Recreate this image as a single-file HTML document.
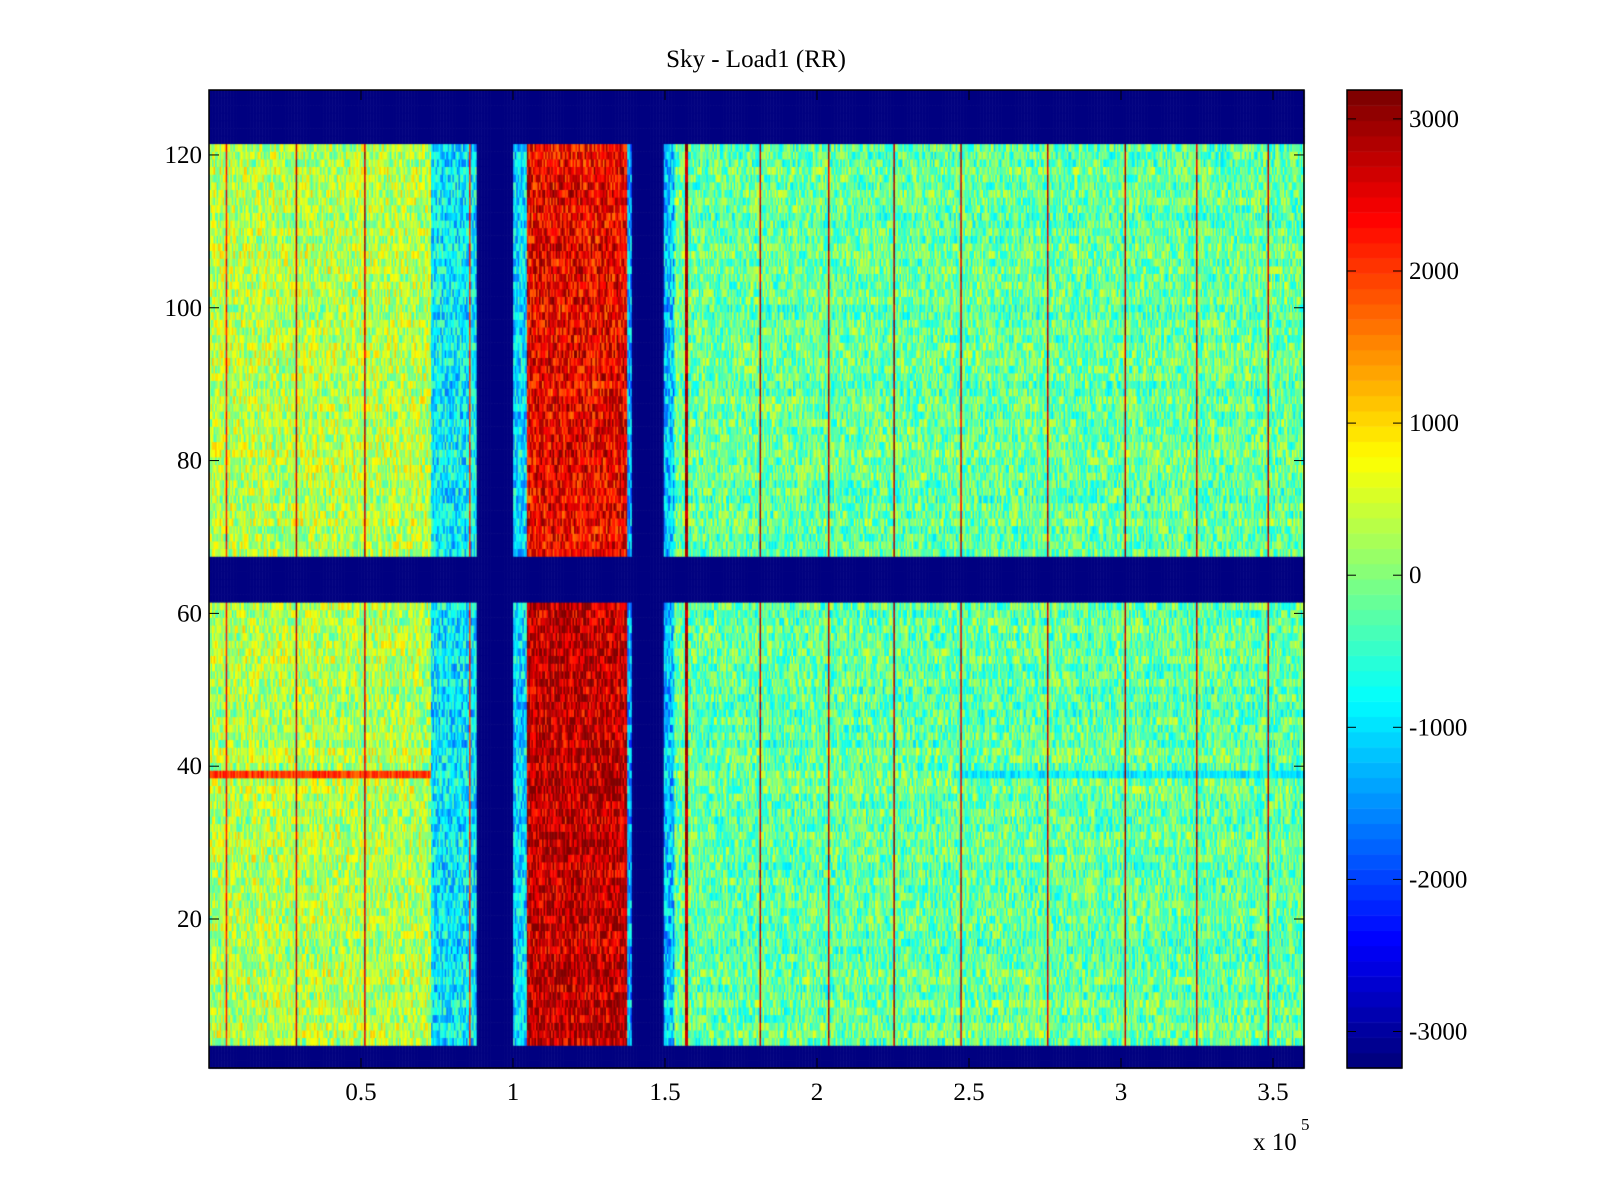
<!DOCTYPE html>
<html><head><meta charset="utf-8"><style>
body{margin:0;background:#fff;width:1600px;height:1200px;overflow:hidden;position:relative;font-family:"Liberation Serif",serif}
canvas{position:absolute;left:0;top:0}
svg{position:absolute;left:0;top:0}
</style></head><body>
<canvas id="cv" width="1600" height="1200"></canvas>
<svg id="sv" width="1600" height="1200"></svg>
<script>
// ---- data ----
const xMin = 0, xMax = 3.602;          // x in units of 1e5
const yMin = 0.5, yMax = 128.5;
const cMin = -3240, cMax = 3190;
const nCols = 720;
const blankRows = [[1,3],[62,67],[122,128]];
const segStarts = [0, 0.73, 0.879, 1.0, 1.044, 1.376, 1.39, 1.498, 1.53];
const segValues = [300, -900, -3240, -1000, 2400, -1300, -3240, -1200, -200];
const lowerRedBoost = 350;             // rows below the middle gap are darker red
const spikeX = [0.058, 0.288, 0.514, 0.86, 1.571, 1.815, 2.038, 2.253, 2.476, 2.757, 3.013, 3.25, 3.486];
const spikeValues = [2300, 2800, 2700, 2000, 2800, 2800, 2700, 2900, 2700, 2700, 2800, 2700, 2800];
const stripeRow = 39;
const stripeLeftValue = 2000, stripeRightValue = -900;
const xTicks = [0.5, 1, 1.5, 2, 2.5, 3, 3.5];
const xTickLabels = ["0.5","1","1.5","2","2.5","3","3.5"];
const yTicks = [20, 40, 60, 80, 100, 120];
const cTicks = [3000, 2000, 1000, 0, -1000, -2000, -3000];

// ---- geometry ----
const L = 209, R = 1304, T = 90, B = 1068;
const CL = 1347, CR = 1402;
const sx = v => L + (v - xMin) / (xMax - xMin) * (R - L);
const sy = v => B - (v - yMin) / (yMax - yMin) * (B - T);
const sc = v => B - (v - cMin) / (cMax - cMin) * (B - T);

function jet(t){
  t = Math.max(0, Math.min(1, t));
  t = Math.floor(t * 63.999) / 63;
  const f = (a) => Math.max(0, Math.min(1, 1.5 - Math.abs(4 * t - a)));
  return `rgb(${Math.round(255*f(3))},${Math.round(255*f(2))},${Math.round(255*f(1))})`;
}
function hash(a, b){ let h = (a * 374761393 + b * 668265263) | 0; h = (h ^ (h >>> 13)) * 1274126177 | 0; return ((h ^ (h >>> 16)) >>> 0) / 4294967296; }

const cv = document.getElementById('cv'), ctx = cv.getContext('2d');
const cw = (R - L) / nCols;
function baseAt(x){ let v = segValues[0]; for (let i = 0; i < segStarts.length; i++) if (x >= segStarts[i]) v = segValues[i]; return v; }
for (let r = 1; r <= 128; r++){
  const blank = blankRows.some(b => r >= b[0] && r <= b[1]);
  const y0 = sy(r + 0.5), y1 = sy(r - 0.5);
  const rowOff = (hash(r, 7) - 0.5) * 250;
  for (let c = 0; c < nCols; c++){
    const x = xMin + (c + 0.5) / nCols * (xMax - xMin);
    let v;
    if (blank) v = cMin;
    else {
      v = baseAt(x);
      if (v > cMin + 10){
        const n = (hash(r, c) - 0.5) * 1500;
        v += n + rowOff;
        if (v > 1300 && r < 62) v += lowerRedBoost;
        if (r === stripeRow && (x < 0.73 || x > 2.45)) v = (x < 0.73 ? stripeLeftValue : stripeRightValue) + n * 0.5;
      }
      for (let k = 0; k < spikeX.length; k++) if (Math.abs(x - spikeX[k]) < 0.0028) v = spikeValues[k] + (hash(r, k) - 0.5) * 700;
    }
    ctx.fillStyle = jet((v - cMin) / (cMax - cMin));
    ctx.fillRect(L + c * cw, y0, cw + 0.6, y1 - y0 + 0.6);
  }
}
// colorbar
for (let i = 0; i < 64; i++){
  const y0 = T + (B - T) * (63 - i) / 64, y1 = T + (B - T) * (64 - i) / 64;
  ctx.fillStyle = jet(i / 63);
  ctx.fillRect(CL, y0, CR - CL, y1 - y0 + 0.5);
}

// ---- axes ----
const NS = 'http://www.w3.org/2000/svg', sv = document.getElementById('sv');
function mk(tag, attrs, txt){ const e = document.createElementNS(NS, tag); for (const k in attrs) e.setAttribute(k, attrs[k]); if (txt !== undefined) e.textContent = txt; sv.appendChild(e); return e; }
let e;
e = mk('rect', {x:L, y:T, width:R-L, height:B-T, fill:'none', stroke:'#000', 'stroke-width':1.5});
 
e = mk('rect', {x:CL, y:T, width:CR-CL, height:B-T, fill:'none', stroke:'#000', 'stroke-width':1.5});
 
xTicks.forEach((t, i) => {
  const x = sx(t);
  mk('line', {x1:x, x2:x, y1:B, y2:B-10, stroke:'#000'});
  mk('line', {x1:x, x2:x, y1:T, y2:T+10, stroke:'#000'});
  e = mk('text', {x:x, y:1100, 'text-anchor':'middle', 'font-size':25, 'font-family':'Liberation Serif, serif'}, xTickLabels[i]);
   
});
yTicks.forEach(t => {
  const y = sy(t);
  mk('line', {x1:L, x2:L+10, y1:y, y2:y, stroke:'#000'});
  mk('line', {x1:R, x2:R-10, y1:y, y2:y, stroke:'#000'});
  e = mk('text', {x:202, y:y+8, 'text-anchor':'end', 'font-size':25, 'font-family':'Liberation Serif, serif'}, String(t));
   
});
cTicks.forEach(t => {
  const y = sc(t);
  mk('line', {x1:CL, x2:CL+9, y1:y, y2:y, stroke:'#000'});
  mk('line', {x1:CR, x2:CR-9, y1:y, y2:y, stroke:'#000'});
  e = mk('text', {x:1409, y:y+8, 'font-size':25, 'font-family':'Liberation Serif, serif'}, String(t));
   
});
e = mk('text', {x:756, y:67, 'text-anchor':'middle', 'font-size':25, 'font-family':'Liberation Serif, serif'}, 'Sky - Load1 (RR)');
 
e = mk('text', {x:1253, y:1150, 'font-size':25, 'font-family':'Liberation Serif, serif'}, 'x 10');
 
e = mk('text', {x:1301, y:1130, 'font-size':17, 'font-family':'Liberation Serif, serif'}, '5');
 
</script>
</body></html>
